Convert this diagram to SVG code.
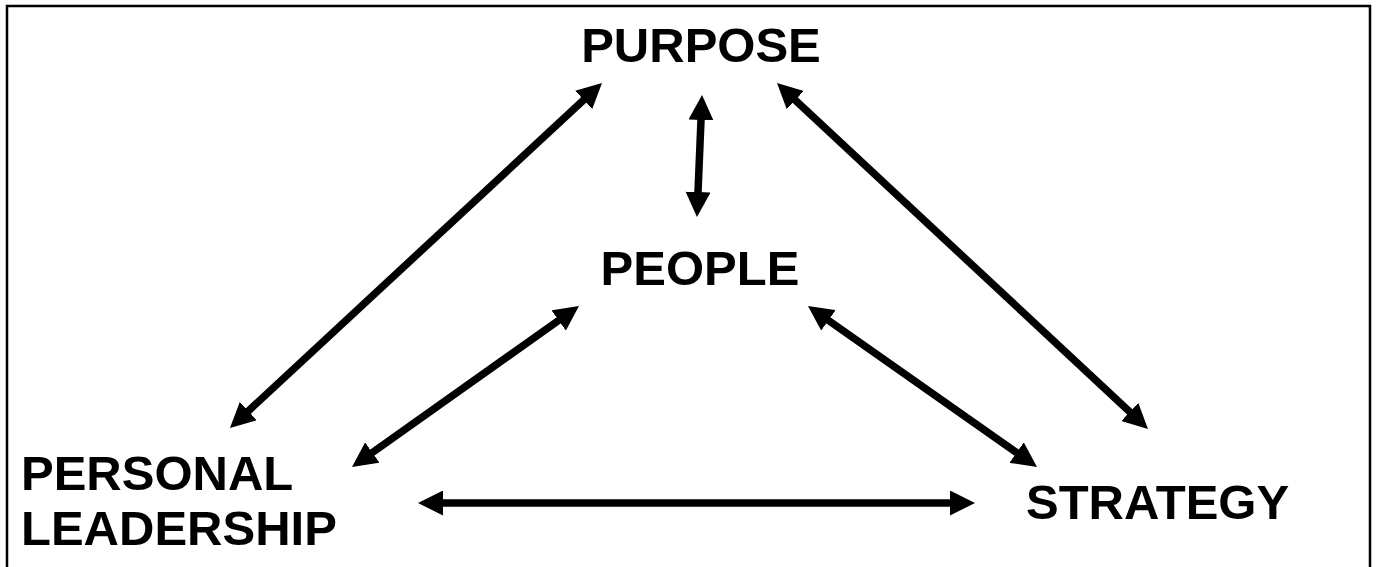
<svg xmlns="http://www.w3.org/2000/svg" width="1376" height="567" viewBox="0 0 1376 567">
  <style>
    .lbl { font-family: "Liberation Sans", Arial, sans-serif; font-weight: bold; font-size: 49px; fill: #000; }
    .conn { stroke: #000; stroke-width: 7.5; fill: none; marker-start: url(#ah); marker-end: url(#ah); }
  </style>
  <defs>
    <marker id="ah" markerUnits="userSpaceOnUse" markerWidth="25" markerHeight="25" viewBox="0 0 25 25" refX="12" refY="12.5" orient="auto-start-reverse">
      <path d="M0,0 L25,12.5 L0,25 z" fill="#000"/>
    </marker>
  </defs>
  <rect x="0" y="0" width="1376" height="567" fill="#fff"/>
  <rect x="7" y="6" width="1363" height="580" fill="none" stroke="#000" stroke-width="2.5"/>
  <g id="connectors">
    <line class="conn" x1="592.5" y1="91.8" x2="239.5" y2="419.2"/>
    <line class="conn" x1="568.4" y1="313.5" x2="362.6" y2="459.5"/>
    <line class="conn" x1="701.5" y1="108" x2="697.5" y2="204"/>
    <line class="conn" x1="786.5" y1="91.9" x2="1138.5" y2="420.1"/>
    <line class="conn" x1="818.6" y1="313.5" x2="1026.4" y2="459.5"/>
    <line class="conn" x1="431" y1="503" x2="962" y2="503"/>
  </g>
  <g id="purpose"><text class="lbl" x="701" y="62" text-anchor="middle">PURPOSE</text></g>
  <g id="people"><text class="lbl" x="700" y="285" text-anchor="middle">PEOPLE</text></g>
  <g id="personal-leadership">
    <text class="lbl" x="21" y="490">PERSONAL</text>
    <text class="lbl" x="21" y="545">LEADERSHIP</text>
  </g>
  <g id="strategy"><text class="lbl" x="1026" y="519">STRATEGY</text></g>
</svg>
